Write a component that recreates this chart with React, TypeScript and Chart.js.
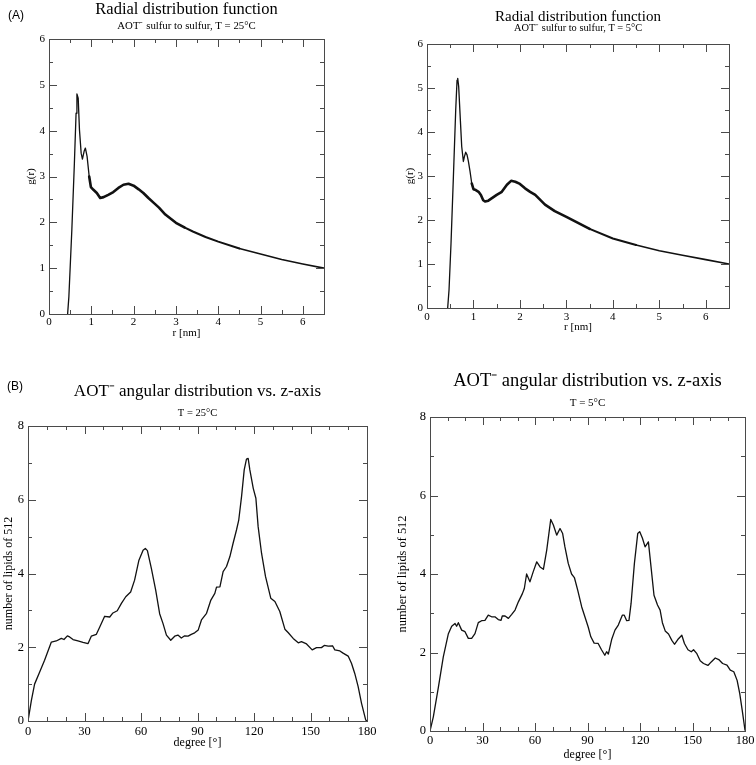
import React, { useEffect, useRef } from 'react';
import { Chart, registerables } from 'chart.js';

Chart.register(...registerables);

const SERIF = '"Liberation Serif", "Times New Roman", serif';
const SANS = '"Liberation Sans", Arial, sans-serif';

// ---- (A) radial distribution function, T = 25 °C ----
const rdf25R = [0.44, 0.47, 0.54, 0.60, 0.64, 0.66, 0.69, 0.72, 0.76, 0.79, 0.83, 0.86, 0.90, 0.95, 0.99, 1.05, 1.13, 1.21, 1.29, 1.40, 1.52, 1.64, 1.76, 1.88, 2.00, 2.12, 2.23, 2.35, 2.47, 2.60, 2.75, 3.00, 3.20, 3.40, 3.70, 4.00, 4.50, 5.00, 5.50, 6.00, 6.50];
const rdf25G = [0, 0.38, 1.84, 3.29, 4.38, 4.80, 4.71, 4.02, 3.51, 3.38, 3.55, 3.62, 3.44, 3.00, 2.77, 2.71, 2.64, 2.53, 2.55, 2.60, 2.66, 2.75, 2.82, 2.84, 2.80, 2.72, 2.64, 2.53, 2.43, 2.32, 2.17, 1.99, 1.89, 1.80, 1.68, 1.58, 1.43, 1.31, 1.19, 1.09, 1.00];

// ---- (A) radial distribution function, T = 5 °C ----
const rdf5R = [0.445, 0.474, 0.517, 0.568, 0.618, 0.647, 0.661, 0.682, 0.718, 0.747, 0.783, 0.805, 0.833, 0.862, 0.891, 0.927, 0.963, 1.00, 1.05, 1.11, 1.16, 1.21, 1.25, 1.32, 1.39, 1.50, 1.61, 1.72, 1.81, 1.90, 2.00, 2.11, 2.22, 2.33, 2.54, 2.75, 3.00, 3.50, 4.00, 4.50, 5.00, 5.50, 6.00, 6.50];
const rdf5G = [0, 0.41, 1.47, 2.98, 4.50, 5.18, 5.22, 5.03, 4.27, 3.67, 3.33, 3.44, 3.54, 3.48, 3.33, 3.10, 2.83, 2.70, 2.68, 2.64, 2.57, 2.45, 2.42, 2.44, 2.49, 2.57, 2.64, 2.80, 2.89, 2.87, 2.82, 2.72, 2.64, 2.57, 2.35, 2.20, 2.07, 1.80, 1.58, 1.43, 1.30, 1.20, 1.10, 1.00];

// ---- (B) angular distribution, T = 25 °C ----
const ang25Deg = [0, 1.8, 3.5, 6.2, 8.8, 12.4, 15.0, 17.7, 19.1, 20.9, 22.1, 23.9, 26.5, 29.2, 31.9, 33.6, 36.3, 38.1, 40.7, 43.4, 45.1, 47.4, 49.6, 51.9, 54.5, 56.6, 58.9, 61.1, 62.3, 63.4, 65.5, 67.8, 69.9, 71.7, 73.5, 75.8, 77.9, 79.6, 81.4, 83.2, 85.0, 86.7, 88.5, 90.4, 92.1, 94.8, 97.1, 99.2, 100.1, 101.9, 103.6, 105.4, 107.2, 108.9, 110.7, 111.9, 113.4, 114.8, 116.0, 116.9, 117.8, 119.6, 121.0, 122.2, 124.0, 126.1, 128.9, 131.1, 133.7, 136.4, 138.1, 140.8, 143.5, 145.2, 147.9, 150.9, 153.2, 155.8, 157.3, 159.4, 161.7, 162.9, 165.6, 167.3, 170.0, 171.8, 173.5, 175.3, 177.1, 179.3, 180];
const ang25N = [0, 0.56, 1.00, 1.33, 1.65, 2.14, 2.17, 2.24, 2.21, 2.31, 2.28, 2.21, 2.17, 2.13, 2.10, 2.30, 2.35, 2.55, 2.84, 2.82, 2.93, 2.99, 3.19, 3.37, 3.50, 3.82, 4.36, 4.63, 4.68, 4.62, 4.14, 3.55, 2.91, 2.64, 2.33, 2.19, 2.30, 2.33, 2.25, 2.31, 2.30, 2.35, 2.39, 2.47, 2.74, 2.92, 3.28, 3.46, 3.63, 3.64, 4.05, 4.19, 4.46, 4.82, 5.18, 5.45, 6.09, 6.81, 7.10, 7.12, 6.81, 6.31, 6.04, 5.27, 4.55, 3.92, 3.33, 3.24, 2.97, 2.49, 2.40, 2.24, 2.12, 2.15, 2.09, 1.93, 1.99, 1.99, 2.05, 2.03, 2.04, 1.93, 1.90, 1.84, 1.76, 1.56, 1.29, 0.93, 0.48, 0.03, 0];

// ---- (B) angular distribution, T = 5 °C ----
const ang5Deg = [0, 1.9, 4.8, 7.6, 10.5, 12.4, 14.3, 15.2, 16.2, 18.1, 20.0, 21.9, 23.8, 25.7, 27.6, 29.5, 31.4, 33.3, 35.2, 37.1, 39.0, 40.6, 41.3, 42.9, 44.8, 46.7, 48.6, 50.5, 52.8, 53.9, 55.2, 57.1, 59.0, 61.0, 62.9, 64.8, 66.7, 69.0, 70.5, 72.4, 74.3, 75.8, 77.1, 79.0, 80.9, 82.5, 84.4, 86.7, 88.6, 90.4, 91.9, 93.8, 96.1, 98.0, 99.9, 100.9, 101.9, 103.8, 105.7, 107.6, 109.9, 111.0, 112.4, 113.7, 114.9, 116.8, 118.7, 119.8, 121.4, 122.9, 124.8, 126.3, 128.0, 130.0, 131.5, 132.8, 134.4, 136.3, 138.2, 139.7, 141.6, 143.9, 145.4, 147.4, 149.3, 150.6, 152.5, 154.4, 156.3, 158.8, 160.7, 163.0, 165.0, 167.2, 169.7, 171.6, 173.6, 175.5, 177.0, 178.4, 180.0];
const ang5N = [0, 0.36, 1.12, 1.89, 2.48, 2.67, 2.74, 2.67, 2.76, 2.57, 2.53, 2.36, 2.36, 2.48, 2.76, 2.81, 2.82, 2.95, 2.91, 2.91, 2.84, 2.82, 2.93, 2.93, 2.87, 2.97, 3.08, 3.29, 3.50, 3.63, 4.00, 3.80, 4.06, 4.31, 4.18, 4.12, 4.61, 5.39, 5.25, 4.99, 5.16, 5.03, 4.69, 4.27, 4.00, 3.91, 3.59, 3.16, 2.90, 2.65, 2.40, 2.24, 2.23, 2.07, 1.93, 2.02, 1.96, 2.33, 2.57, 2.70, 2.95, 2.95, 2.81, 2.82, 3.25, 4.27, 5.03, 5.08, 4.91, 4.69, 4.82, 4.18, 3.46, 3.21, 3.08, 2.76, 2.55, 2.47, 2.31, 2.21, 2.33, 2.44, 2.23, 2.07, 2.02, 2.07, 1.97, 1.79, 1.72, 1.67, 1.76, 1.86, 1.82, 1.72, 1.68, 1.55, 1.51, 1.29, 0.95, 0.53, 0.02];

const frameTicks = {
  id: 'frameTicks',
  afterDraw(chart: any, _args: any, opts: any) {
    const { ctx, chartArea } = chart;
    const { left, top, right, bottom } = chartArea;
    const xs = chart.scales.x;
    const ys = chart.scales.y;
    ctx.save();
    ctx.strokeStyle = opts.color;
    ctx.lineWidth = 1;
    ctx.beginPath();
    for (const t of xs.ticks) {
      const px = Math.round(xs.getPixelForValue(t.value)) + 0.5;
      const len = t.label !== '' ? opts.major : opts.minor;
      ctx.moveTo(px, bottom);
      ctx.lineTo(px, bottom - len);
      ctx.moveTo(px, top);
      ctx.lineTo(px, top + len);
    }
    for (const t of ys.ticks) {
      const py = Math.round(ys.getPixelForValue(t.value)) + 0.5;
      const len = t.label !== '' ? opts.major : opts.minor;
      ctx.moveTo(left, py);
      ctx.lineTo(left + len, py);
      ctx.moveTo(right, py);
      ctx.lineTo(right - len, py);
    }
    ctx.stroke();
    ctx.strokeRect(Math.round(left) + 0.5, Math.round(top) + 0.5, Math.round(right - left), Math.round(bottom - top));
    ctx.restore();
  },
};

type Spec = {
  pageLeft: number; pageTop: number; width: number; height: number;
  area: { l: number; t: number; r: number; b: number };
  xs: number[]; ys: number[];
  xMax: number; xStep: number; xLabel: (v: number) => boolean;
  yMax: number; yStep: number; yLabel: (v: number) => boolean;
  title: string; titleSize: number; titleY: number;
  subtitle: string; subSize: number; subY: number;
  xTitle: string; xTitleSize: number; xTitleY: number; xTickSize: number; xTickY: number;
  yTitle: string; yTitleSize: number; yTitleX: number; yTickSize: number; yTickGap: number;
  lineWidth: (x: number) => number;
};

const LH = 8;

function buildConfig(s: Spec): any {
  const titleBottom = s.titleY + LH / 2;
  return {
    type: 'line',
    data: {
      datasets: [
        {
          data: s.xs.map((x, i) => ({ x, y: s.ys[i] })),
          borderColor: '#111',
          borderWidth: 1.3,
          borderCapStyle: 'round',
          borderJoinStyle: 'round',
          pointRadius: 0,
          tension: 0,
          fill: false,
          segment: { borderWidth: (c: any) => s.lineWidth(c.p0.parsed.x) },
        },
      ],
    },
    options: {
      animation: false,
      responsive: false,
      layout: { padding: { left: 0, top: 0, right: s.width - s.area.r, bottom: 0 } },
      plugins: {
        legend: { display: false },
        tooltip: { enabled: false },
        title: {
          display: true,
          text: s.title,
          fullSize: false,
          color: '#000',
          font: { family: SERIF, size: s.titleSize, weight: 'normal', lineHeight: LH + 'px' },
          padding: { top: s.titleY - LH / 2, bottom: 0 },
        },
        subtitle: {
          display: true,
          text: s.subtitle,
          fullSize: false,
          color: '#000',
          font: { family: SERIF, size: s.subSize, weight: 'normal', lineHeight: LH + 'px' },
          padding: { top: s.subY - LH / 2 - titleBottom, bottom: s.area.t - (s.subY + LH / 2) },
        },
        frameTicks: { color: '#4a4a4a', major: 8, minor: 4 },
      },
      scales: {
        x: {
          type: 'linear',
          min: 0,
          max: s.xMax,
          grid: { display: false, drawTicks: false },
          border: { display: false },
          ticks: {
            stepSize: s.xStep,
            autoSkip: false,
            maxRotation: 0,
            color: '#000',
            padding: s.xTickY - s.area.b - LH / 2,
            font: { family: SERIF, size: s.xTickSize, lineHeight: LH + 'px' },
            callback: (v: number) => (s.xLabel(v) ? String(v) : ''),
          },
          title: {
            display: true,
            text: s.xTitle,
            color: '#000',
            font: { family: SERIF, size: s.xTitleSize, lineHeight: LH + 'px' },
            padding: { top: 0, bottom: s.height - s.xTitleY - LH / 2 },
          },
          afterFit: (sc: any) => {
            sc.height = s.height - s.area.b;
            sc.paddingLeft = 0;
            sc.paddingRight = 0;
          },
        },
        y: {
          type: 'linear',
          min: 0,
          max: s.yMax,
          grid: { display: false, drawTicks: false },
          border: { display: false },
          ticks: {
            stepSize: s.yStep,
            autoSkip: false,
            color: '#000',
            padding: s.yTickGap,
            font: { family: SERIF, size: s.yTickSize, lineHeight: LH + 'px' },
            callback: (v: number) => (s.yLabel(v) ? String(v) : ''),
          },
          title: {
            display: true,
            text: s.yTitle,
            color: '#000',
            font: { family: SERIF, size: s.yTitleSize, lineHeight: LH + 'px' },
            padding: { top: s.yTitleX - LH / 2, bottom: 0 },
          },
          afterFit: (sc: any) => {
            sc.width = s.area.l;
            sc.paddingTop = 0;
            sc.paddingBottom = 0;
          },
        },
      },
    },
    plugins: [frameTicks],
  };
}

function Panel({ spec }: { spec: Spec }) {
  const ref = useRef<HTMLCanvasElement>(null);
  useEffect(() => {
    if (!ref.current) return;
    const chart = new Chart(ref.current, buildConfig(spec));
    return () => chart.destroy();
  }, [spec]);
  return (
    <canvas
      ref={ref}
      width={spec.width}
      height={spec.height}
      style={{ position: 'absolute', left: spec.pageLeft, top: spec.pageTop, width: spec.width, height: spec.height }}
    />
  );
}

const rdfWidth = (r: number) => (r < 0.93 ? 1.3 : r < 3.2 ? 2.6 : r < 4.5 ? 2.0 : 1.6);
const angWidth = () => 1.3;
const isInt = (v: number) => Math.abs(v - Math.round(v)) < 1e-9;

const specs: Spec[] = [
  {
    pageLeft: 0, pageTop: 0, width: 378, height: 345,
    area: { l: 49, t: 39, r: 324, b: 314 },
    xs: rdf25R, ys: rdf25G,
    xMax: 6.5, xStep: 0.5, xLabel: isInt,
    yMax: 6, yStep: 0.5, yLabel: isInt,
    title: 'Radial distribution function', titleSize: 16.5, titleY: 10,
    subtitle: 'AOT⁻ sulfur to sulfur, T = 25°C', subSize: 10.8, subY: 26,
    xTitle: 'r [nm]', xTitleSize: 11, xTitleY: 333, xTickSize: 11, xTickY: 322,
    yTitle: 'g(r)', yTitleSize: 11, yTitleX: 31.5, yTickSize: 11, yTickGap: 4,
    lineWidth: rdfWidth,
  },
  {
    pageLeft: 378, pageTop: 0, width: 378, height: 345,
    area: { l: 49, t: 44, r: 351, b: 308 },
    xs: rdf5R, ys: rdf5G,
    xMax: 6.5, xStep: 0.5, xLabel: isInt,
    yMax: 6, yStep: 0.5, yLabel: isInt,
    title: 'Radial distribution function', titleSize: 15, titleY: 17,
    subtitle: 'AOT⁻ sulfur to sulfur, T = 5°C', subSize: 10.4, subY: 28.5,
    xTitle: 'r [nm]', xTitleSize: 11, xTitleY: 327, xTickSize: 11, xTickY: 317.5,
    yTitle: 'g(r)', yTitleSize: 11, yTitleX: 32, yTickSize: 11, yTickGap: 4,
    lineWidth: rdfWidth,
  },
  {
    pageLeft: 0, pageTop: 365, width: 378, height: 400,
    area: { l: 28, t: 61, r: 367, b: 356 },
    xs: ang25Deg, ys: ang25N,
    xMax: 180, xStep: 10, xLabel: (v) => v % 30 === 0,
    yMax: 8, yStep: 1, yLabel: (v) => v % 2 === 0,
    title: 'AOT⁻ angular distribution vs. z-axis', titleSize: 17, titleY: 26.5,
    subtitle: 'T = 25°C', subSize: 10.5, subY: 48,
    xTitle: 'degree [°]', xTitleSize: 12, xTitleY: 378, xTickSize: 12.5, xTickY: 367,
    yTitle: 'number of lipids of 512', yTitleSize: 12, yTitleX: 9, yTickSize: 12.5, yTickGap: 4,
    lineWidth: angWidth,
  },
  {
    pageLeft: 378, pageTop: 365, width: 378, height: 400,
    area: { l: 52, t: 52, r: 367, b: 366 },
    xs: ang5Deg, ys: ang5N,
    xMax: 180, xStep: 10, xLabel: (v) => v % 30 === 0,
    yMax: 8, yStep: 1, yLabel: (v) => v % 2 === 0,
    title: 'AOT⁻ angular distribution vs. z-axis', titleSize: 18.5, titleY: 16,
    subtitle: 'T = 5°C', subSize: 11, subY: 38.5,
    xTitle: 'degree [°]', xTitleSize: 12, xTitleY: 389.5, xTickSize: 12.5, xTickY: 376,
    yTitle: 'number of lipids of 512', yTitleSize: 12.4, yTitleX: 25, yTickSize: 12.5, yTickGap: 4,
    lineWidth: angWidth,
  },
];

export default function App() {
  return (
    <div style={{ position: 'fixed', left: 0, top: 0, width: 756, height: 765, background: '#fff', overflow: 'hidden' }}>
      {specs.map((s, i) => (
        <Panel key={i} spec={s} />
      ))}
      <div style={{ position: 'absolute', left: 8, top: 7, font: `12px ${SANS}`, color: '#000', lineHeight: '16px' }}>(A)</div>
      <div style={{ position: 'absolute', left: 7, top: 378, font: `12px ${SANS}`, color: '#000', lineHeight: '16px' }}>(B)</div>
    </div>
  );
}
